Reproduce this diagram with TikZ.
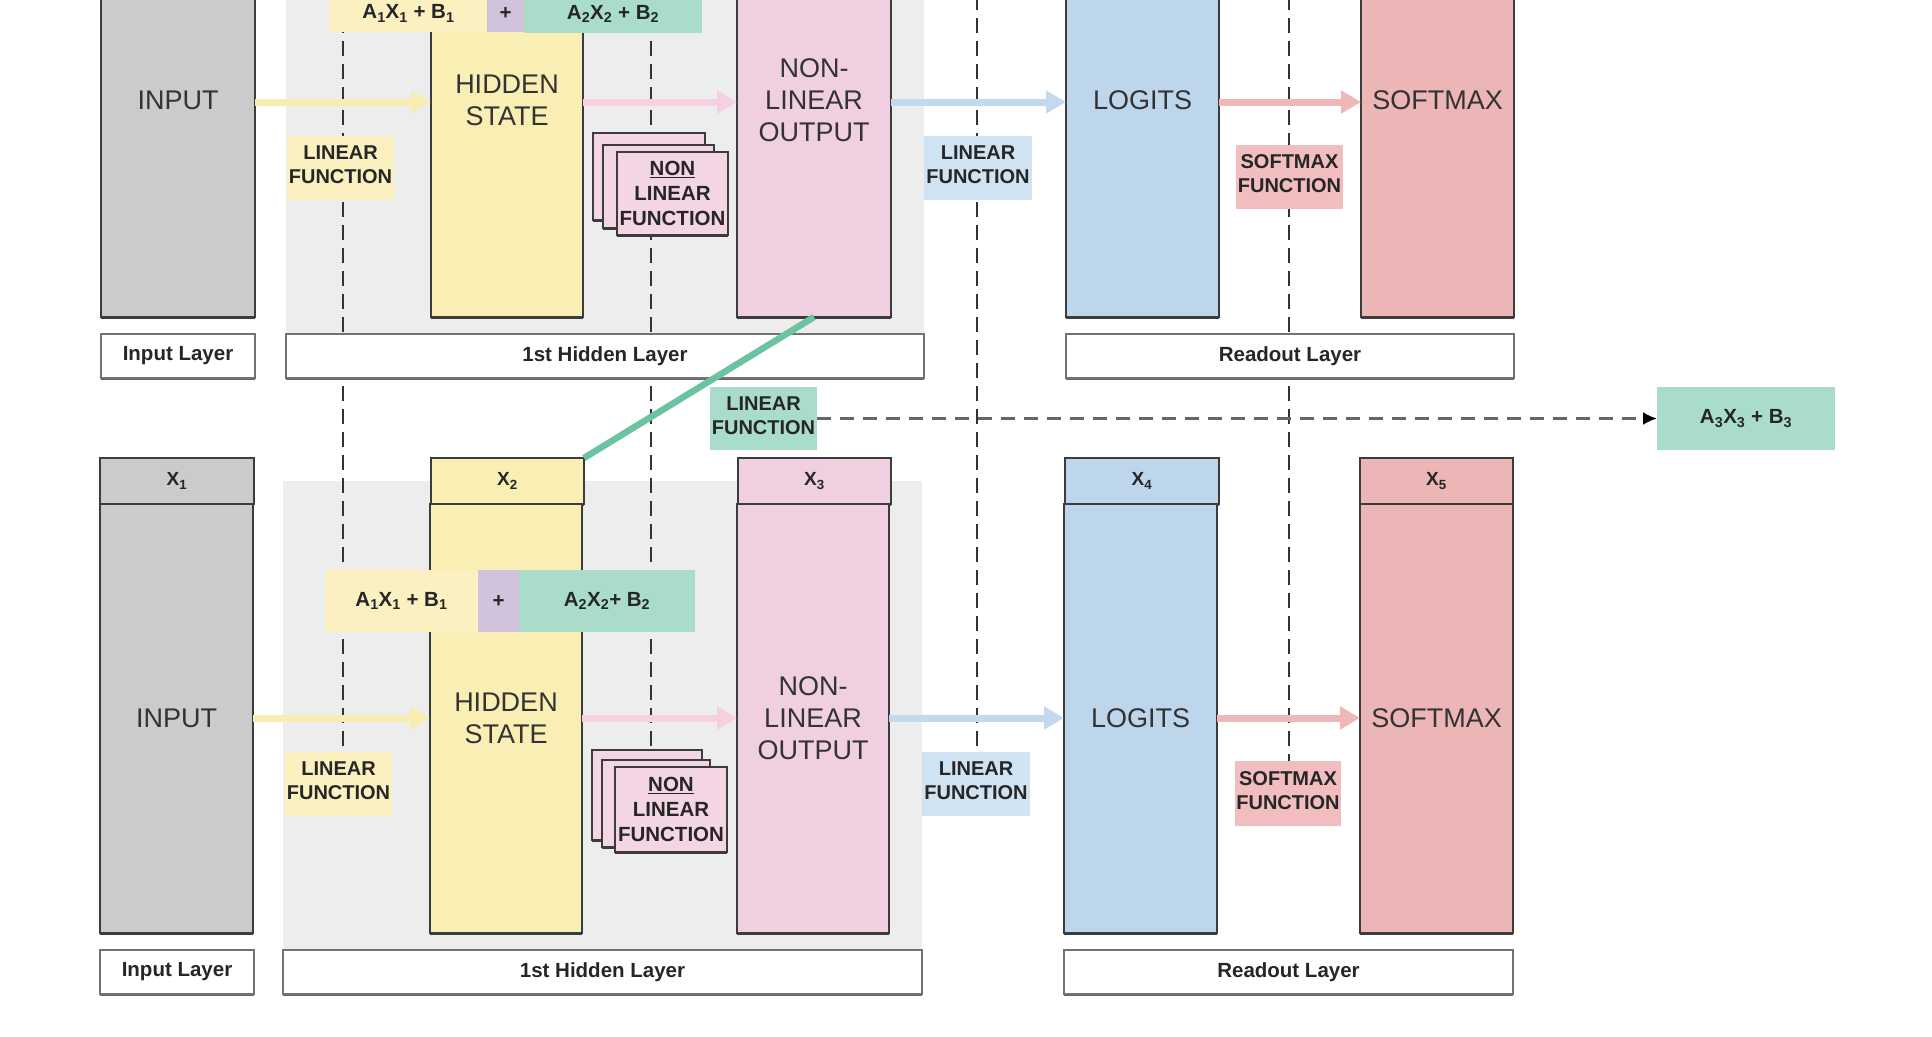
\documentclass[tikz,border=0pt]{standalone}
\usepackage{fontspec}
\setmainfont{Liberation Sans}
\usetikzlibrary{arrows.meta,shadows,fit}

\definecolor{edge}{HTML}{3C3C3C}
\definecolor{txt}{HTML}{333333}
\definecolor{grayBox}{HTML}{CBCBCB}
\definecolor{bgGray}{HTML}{EDEDED}
\definecolor{yel}{HTML}{F9EEB3}
\definecolor{yelL}{HTML}{FBF1C0}
\definecolor{pur}{HTML}{D2C3DC}
\definecolor{grn}{HTML}{A9DDCA}
\definecolor{grnD}{HTML}{6BC3A0}
\definecolor{pnk}{HTML}{F0CFE0}
\definecolor{pnkC}{HTML}{F3D5E4}
\definecolor{blu}{HTML}{BDD6EB}
\definecolor{bluL}{HTML}{D0E3F2}
\definecolor{smx}{HTML}{EBB6B5}
\definecolor{smxL}{HTML}{F1BDBE}
\definecolor{aY}{HTML}{F8EDB0}
\definecolor{aP}{HTML}{F5D0E0}
\definecolor{aB}{HTML}{C3DAEE}
\definecolor{aR}{HTML}{EFB8B8}

\newcommand\sbs[1]{\textsubscript{#1}}

\tikzset{
  blk/.style={draw=edge, line width=1.6pt, inner sep=0pt, outer sep=0pt,
    drop shadow={shadow xshift=0pt, shadow yshift=-2.2pt, fill=edge, opacity=1}},
  panel/.style={fill=bgGray, inner sep=0pt, outer sep=0pt},
  plain/.style={inner sep=0pt, outer sep=0pt},
  layerbox/.style={draw=black!55, line width=1.6pt, fill=white, inner sep=0pt, outer sep=0pt,
    drop shadow={shadow xshift=0pt, shadow yshift=-1.8pt, fill=black!60, opacity=1}},
  card/.style={blk, fill=pnkC},
  bigtxt/.style={inner sep=0pt, text=txt, align=center, font=\fontsize{27}{32}\selectfont},
  hdrtxt/.style={inner sep=0pt, text=black!85, font=\bfseries\fontsize{19}{22}\selectfont},
  tagtxt/.style={inner sep=0pt, yshift=3pt, text=black!85, align=center, font=\bfseries\fontsize{20}{24}\selectfont},
  cardtxt/.style={inner sep=0pt, text=black!85, align=center, font=\bfseries\fontsize{20.5}{25}\selectfont},
  formtxt/.style={inner sep=0pt, text=black!85, font=\bfseries\fontsize{20.5}{24}\selectfont},
  laytxt/.style={inner sep=0pt, text=black!85, font=\bfseries\fontsize{20.5}{24}\selectfont},
  flow/.style={line width=7pt, -{Triangle[length=20pt,width=22pt]}},
  vdash/.style={draw=black!80, line width=2pt, dash pattern=on 15pt off 8pt},
  hdash/.style={draw=black!60, line width=2.5pt, dash pattern=on 14pt off 9pt,
    -{Latex[length=14pt,width=13pt,color=black]}},
}

\begin{document}
\begin{tikzpicture}[x=1pt, y=-1pt]
\path[use as bounding box] (0,0) rectangle (1932,1036);
\clip (0,0) rectangle (1932,1036);
\fill[white] (0,0) rectangle (1932,1036);

% background panels
\node[panel, fit={(286,-117) (924,334)}] (bgT) {};
\node[panel, fit={(283,481) (922,949)}] (bgB) {};

% dashed verticals
\coordinate (v1) at (343,-5);
\coordinate (v2) at (651,-5);
\coordinate (v3) at (977,-5);
\coordinate (v4) at (1289,-5);
\coordinate (e1) at (343,784);
\coordinate (e2) at (651,800);
\coordinate (e3) at (977,784);
\coordinate (e4) at (1289,793);
\draw[vdash] (v1) -- (e1);
\draw[vdash] (v2) -- (e2);
\draw[vdash] (v3) -- (e3);
\draw[vdash] (v4) -- (e4);

% ---------- top row ----------
\node[blk, fill=grayBox, fit={(101,-117) (255,317)}] (inT) {};
\node[blk, fill=yel, fit={(431,-117) (583,317)}] (hidT) {};
\node[blk, fill=pnk, fit={(737,-117) (891,317)}] (nlT) {};
\node[blk, fill=blu, fit={(1066,-117) (1219,317)}] (logT) {};
\node[blk, fill=smx, fit={(1361,-117) (1514,317)}] (smT) {};
\node[bigtxt] (inTt) at (inT) {INPUT};
\node[bigtxt] (hidTt) at (hidT) {HIDDEN\\STATE};
\node[bigtxt] (nlTt) at (nlT) {NON-\\LINEAR\\OUTPUT};
\node[bigtxt] (logTt) at (logT) {LOGITS};
\node[bigtxt] (smTt) at (smT) {SOFTMAX};

\coordinate (rowT) at (0,102);
\draw[flow, draw=aY, fill=aY] (inT.east |- rowT) -- (hidT.west |- rowT);
\draw[flow, draw=aP, fill=aP] (hidT.east |- rowT) -- (nlT.west |- rowT);
\draw[flow, draw=aB, fill=aB] (nlT.east |- rowT) -- (logT.west |- rowT);
\draw[flow, draw=aR, fill=aR] (logT.east |- rowT) -- (smT.west |- rowT);

\node[plain, fill=yelL, fit={(330,-31) (487,32)}] (fYT) {};
\node[plain, fill=pur, fit={(487,-31) (524,32)}] (fPT) {};
\node[plain, fill=grn, fit={(524,-31) (702,33)}] (fGT) {};
\node[formtxt] (fYTt) at ([yshift=-13pt]fYT.center) {A\sbs{1}X\sbs{1} + B\sbs{1}};
\node[formtxt] (fPTt) at ([yshift=-13pt]fPT.center) {+};
\node[formtxt] (fGTt) at ([yshift=-13pt]fGT.center) {A\sbs{2}X\sbs{2} + B\sbs{2}};

\node[plain, fill=yelL, fit={(287,136) (394,200)}] (linYT) {};
\node[plain, fill=bluL, fit={(924,136) (1032,200)}] (linBT) {};
\node[plain, fill=smxL, fit={(1236,145) (1343,209)}] (smfT) {};
\node[tagtxt] (linYTt) at (linYT) {LINEAR\\FUNCTION};
\node[tagtxt] (linBTt) at (linBT) {LINEAR\\FUNCTION};
\node[tagtxt] (smfTt) at (smfT) {SOFTMAX\\FUNCTION};

\node[card, fit={(593,133) (705,220)}] (c1T) {};
\node[card, fit={(603,145) (714,228)}] (c2T) {};
\node[card, fit={(617,152) (728,235)}] (c3T) {};
\node[cardtxt] (c3Tt) at (c3T) {\underline{NON}\\LINEAR\\FUNCTION};

\node[layerbox, fit={(101,334) (255,378)}] (ilT) {};
\node[layerbox, fit={(286,334) (924,378)}] (hlT) {};
\node[layerbox, fit={(1066,334) (1514,378)}] (rlT) {};
\node[laytxt] (ilTt) at (ilT) {Input Layer};
\node[laytxt] (hlTt) at (hlT) {1st Hidden Layer};
\node[laytxt] (rlTt) at (rlT) {Readout Layer};

% ---------- bottom row ----------
\node[blk, fill=grayBox, fit={(100,458) (254,504)}] (x1) {};
\node[blk, fill=yel, fit={(431,458) (584,504)}] (x2) {};
\node[blk, fill=pnk, fit={(738,458) (891,504)}] (x3) {};
\node[blk, fill=blu, fit={(1065,458) (1219,504)}] (x4) {};
\node[blk, fill=smx, fit={(1360,458) (1513,504)}] (x5) {};
\node[hdrtxt] (x1t) at (x1) {X\sbs{1}};
\node[hdrtxt] (x2t) at (x2) {X\sbs{2}};
\node[hdrtxt] (x3t) at (x3) {X\sbs{3}};
\node[hdrtxt] (x4t) at (x4) {X\sbs{4}};
\node[hdrtxt] (x5t) at (x5) {X\sbs{5}};

\node[blk, fill=grayBox, fit={(100,504) (253,933)}] (inB) {};
\node[blk, fill=yel, fit={(430,504) (582,933)}] (hidB) {};
\node[blk, fill=pnk, fit={(737,504) (889,933)}] (nlB) {};
\node[blk, fill=blu, fit={(1064,504) (1217,933)}] (logB) {};
\node[blk, fill=smx, fit={(1360,504) (1513,933)}] (smB) {};
\node[bigtxt] (inBt) at (inB) {INPUT};
\node[bigtxt] (hidBt) at (hidB) {HIDDEN\\STATE};
\node[bigtxt] (nlBt) at (nlB) {NON-\\LINEAR\\OUTPUT};
\node[bigtxt] (logBt) at (logB) {LOGITS};
\node[bigtxt] (smBt) at (smB) {SOFTMAX};

\coordinate (rowB) at (0,718);
\draw[flow, draw=aY, fill=aY] (inB.east |- rowB) -- (hidB.west |- rowB);
\draw[flow, draw=aP, fill=aP] (hidB.east |- rowB) -- (nlB.west |- rowB);
\draw[flow, draw=aB, fill=aB] (nlB.east |- rowB) -- (logB.west |- rowB);
\draw[flow, draw=aR, fill=aR] (logB.east |- rowB) -- (smB.west |- rowB);

\node[plain, fill=yelL, fit={(325,570) (478,632)}] (fYB) {};
\node[plain, fill=pur, fit={(478,570) (519,632)}] (fPB) {};
\node[plain, fill=grn, fit={(519,570) (695,632)}] (fGB) {};
\node[formtxt] (fYBt) at (fYB) {A\sbs{1}X\sbs{1} + B\sbs{1}};
\node[formtxt] (fPBt) at (fPB) {+};
\node[formtxt] (fGBt) at (fGB) {A\sbs{2}X\sbs{2}+ B\sbs{2}};

\node[plain, fill=yelL, fit={(285,752) (392,816)}] (linYB) {};
\node[plain, fill=bluL, fit={(922,752) (1030,816)}] (linBB) {};
\node[plain, fill=smxL, fit={(1235,761) (1341,826)}] (smfB) {};
\node[tagtxt] (linYBt) at (linYB) {LINEAR\\FUNCTION};
\node[tagtxt] (linBBt) at (linBB) {LINEAR\\FUNCTION};
\node[tagtxt] (smfBt) at (smfB) {SOFTMAX\\FUNCTION};

\node[card, fit={(592,750) (702,840)}] (c1B) {};
\node[card, fit={(602,760) (710,847)}] (c2B) {};
\node[card, fit={(615,767) (727,852)}] (c3B) {};
\node[cardtxt] (c3Bt) at (c3B) {\underline{NON}\\LINEAR\\FUNCTION};

\node[layerbox, fit={(100,950) (254,994)}] (ilB) {};
\node[layerbox, fit={(283,950) (922,994)}] (hlB) {};
\node[layerbox, fit={(1064,950) (1513,994)}] (rlB) {};
\node[laytxt] (ilBt) at (ilB) {Input Layer};
\node[laytxt] (hlBt) at (hlB) {1st Hidden Layer};
\node[laytxt] (rlBt) at (rlB) {Readout Layer};

% ---------- recurrence ----------
\draw[draw=grnD, line width=6.5pt] (nlT.south) -- (x2.north east);
\node[plain, fill=grn, fit={(710,387) (817,450)}] (linG) {};
\node[tagtxt] (linGt) at (linG) {LINEAR\\FUNCTION};
\node[plain, fill=grn, fit={(1657,387) (1835,450)}] (res) {};
\node[formtxt] (rest) at (res) {A\sbs{3}X\sbs{3} + B\sbs{3}};
\draw[hdash] (linG.east) -- (res.west);
\end{tikzpicture}
\end{document}
